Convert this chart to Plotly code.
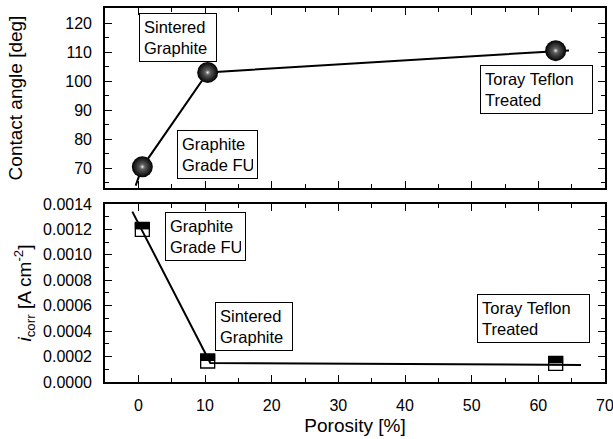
import plotly.graph_objects as go

# ---- data ----
porosity = [0.6, 10.4, 62.6]
contact_angle = [70.5, 103.0, 110.5]
angle_fit_x = [-0.4, 0.6, 10.4, 62.6, 64.6]
angle_fit_y = [64.0, 70.5, 103.0, 110.5, 110.6]

icorr = [0.00120, 0.000165, 0.000147]
icorr_fit_x = [-0.9, 10.8, 66.4]
icorr_fit_y = [0.00134, 0.000150, 0.000134]

labels = ["Graphite<br>Grade FU", "Sintered<br>Graphite", "Toray Teflon<br>Treated"]

FONT = "Liberation Sans, Arial, sans-serif"
fig = go.Figure()

# top panel: line then spheres
fig.add_trace(go.Scatter(x=angle_fit_x, y=angle_fit_y, mode="lines",
                         line=dict(color="black", width=2), xaxis="x", yaxis="y", hoverinfo="skip"))
fig.add_trace(go.Scatter(x=porosity, y=contact_angle, mode="markers", xaxis="x", yaxis="y",
                         marker=dict(size=21, color="black", line=dict(width=0),
                                     gradient=dict(type="radial", color="#7a7a7a"))))
fig.add_trace(go.Scatter(x=porosity, y=contact_angle, mode="markers", xaxis="x", yaxis="y",
                         marker=dict(size=6, color="rgba(120,120,120,0)", line=dict(width=0),
                                     gradient=dict(type="radial", color="#ffffff"))))

# bottom panel: open squares, black upper halves, then line
half = 0.0014 / 178 * 7
fig.add_trace(go.Scatter(x=porosity, y=icorr, mode="markers", xaxis="x2", yaxis="y2",
                         marker=dict(symbol="square", size=14, color="white",
                                     line=dict(color="black", width=1.3))))
fig.add_trace(go.Scatter(x=porosity, y=icorr, mode="markers", xaxis="x2", yaxis="y2",
                         marker=dict(size=2, opacity=0),
                         error_y=dict(type="data", symmetric=False, array=[half] * 3,
                                      arrayminus=[0] * 3, thickness=15, width=0, color="black")))
fig.add_trace(go.Scatter(x=icorr_fit_x, y=icorr_fit_y, mode="lines", xaxis="x2", yaxis="y2",
                         line=dict(color="black", width=2), hoverinfo="skip"))

axis_common = dict(showline=True, linecolor="black", linewidth=1.6, mirror="ticks",
                   ticks="inside", ticklen=7, tickwidth=1.4, tickcolor="black",
                   showgrid=False, zeroline=False, automargin=False, ticklabeloverflow="allow",
                   tickfont=dict(family=FONT, size=16, color="black"),
                   minor=dict(ticks="inside", ticklen=4, tickwidth=1.2, tickcolor="black"))
TITLE_FONT = dict(family=FONT, size=19, color="black")

fig.update_layout(
    width=613, height=439,
    margin=dict(l=105, r=8, t=8, b=57),
    paper_bgcolor="white", plot_bgcolor="white",
    showlegend=False,
    xaxis=dict(axis_common, range=[-5, 70], dtick=10, tick0=0, minor=dict(axis_common["minor"], dtick=5),
               showticklabels=False, anchor="y", domain=[0, 1]),
    yaxis=dict(axis_common, range=[63.2, 125.2], dtick=10, tick0=0, minor=dict(axis_common["minor"], dtick=5),
               domain=[0.5187, 1.0], anchor="x", ticklabelstandoff=8,
               title=dict(text="Contact angle [deg]", font=TITLE_FONT, standoff=38)),
    xaxis2=dict(axis_common, range=[-5, 70], dtick=10, tick0=0, minor=dict(axis_common["minor"], dtick=5),
                anchor="y2", domain=[0, 1], ticklabelstandoff=8,
                title=dict(text="Porosity [%]", font=TITLE_FONT, standoff=6)),
    yaxis2=dict(axis_common, range=[0, 0.0014], dtick=0.0002, tick0=0, tickformat=".4f",
                minor=dict(axis_common["minor"], dtick=0.0001),
                domain=[0, 0.476], anchor="x2", ticklabelstandoff=8,
                title=dict(text="<i>i</i><sub>corr</sub> [A cm<sup>-2</sup>]",
                           font=TITLE_FONT, standoff=6)),
)

ann_pos = [
    # (text index, xref, yref, x, y, box text width)
    (1, "x", "y", 0.15, 123.6, 68),
    (0, "x", "y", 5.85, 83.2, 71),
    (2, "x", "y", 51.3, 105.6, 103),
    (0, "x2", "y2", 4.05, 0.001337, 71),
    (1, "x2", "y2", 11.55, 0.000629, 68),
    (2, "x2", "y2", 50.8, 0.000692, 103),
]
for i, xr, yr, x, y, w in ann_pos:
    fig.add_annotation(text=labels[i], xref=xr, yref=yr, x=x, y=y, xanchor="left", yanchor="top",
                       showarrow=False, align="left", bordercolor="black", borderwidth=1,
                       borderpad=4, bgcolor="white", width=w,
                       font=dict(family=FONT, size=16.5, color="black"))

fig.write_html("out.html", config={"displayModeBar": False},
               post_script="document.body.style.margin='0';document.body.style.padding='0';")
